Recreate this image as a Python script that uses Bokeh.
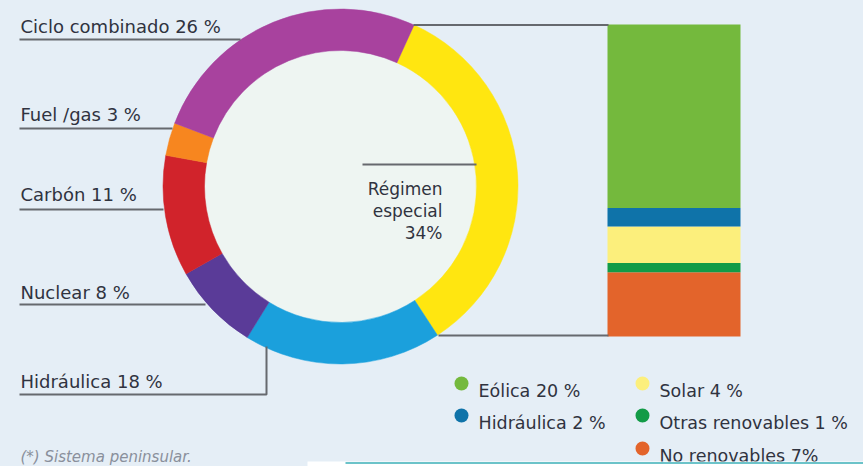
import numpy as np
from bokeh.plotting import figure
from bokeh.models import Range1d, ColumnDataSource
from bokeh.embed import file_html
from bokeh.resources import INLINE
from bokeh.core.properties import value

# ---------------- data ----------------
donut_labels = ["Régimen especial", "Hidráulica", "Nuclear", "Carbón", "Fuel/gas", "Ciclo combinado"]
donut_values = [34, 18, 8, 11, 3, 26]
donut_colors = ["#ffe610", "#1ba0dc", "#5a3b98", "#d1232b", "#f7861f", "#a8429e"]

left_label_texts = ["Ciclo combinado 26 %", "Fuel /gas 3 %", "Carbón 11 %", "Nuclear 8 %", "Hidráulica 18 %"]

bar_labels = ["Eólica", "Hidráulica", "Solar", "Otras renovables", "No renovables"]
bar_values = [20, 2, 4, 1, 7]
bar_colors = ["#74b93d", "#0f73a9", "#fcef7c", "#129b47", "#e3642b"]
legend_texts = ["Eólica 20 %", "Hidráulica 2 %", "Solar 4 %", "Otras renovables 1 %", "No renovables 7%"]

center_text = ["Régimen", "especial", "34%"]
footnote = "(*) Sistema peninsular."

# ---------------- figure ----------------
BG = "#e5eef6"
TXT = "#30333f"
LINE = "#66696e"
FONT = value("DejaVu Sans")
W, H = 863, 466

p = figure(width=W, height=H, x_range=Range1d(0, W), y_range=Range1d(0, H),
           output_backend="svg", toolbar_location=None,
           x_axis_type=None, y_axis_type=None, min_border=0)
p.outline_line_color = None
p.grid.visible = False
p.background_fill_color = BG
p.border_fill_color = BG


def X(ix):
    return ix


def Y(iy):
    return H - iy


# ---------------- donut ----------------
cx, cy = X(340), Y(186)
r_out, r_in = 177.5, 136
start_top = 24.5  # degrees clockwise from 12 o'clock
vals = np.array(donut_values, dtype=float)
cum = np.concatenate([[0], np.cumsum(vals)])
th_s = start_top + 360 * cum[:-1] / vals.sum()
th_e = start_top + 360 * cum[1:] / vals.sum()
d_src = ColumnDataSource(dict(
    start=np.radians(90 - th_s), end=np.radians(90 - th_e),
    color=donut_colors, label=donut_labels))

p.circle(x=cx, y=cy, radius=r_in, fill_color="#eef5f2", line_color=None)
p.annular_wedge(x=cx, y=cy, inner_radius=r_in, outer_radius=r_out,
                start_angle="start", end_angle="end", direction="clock",
                fill_color="color", line_color="color", line_width=0.5, source=d_src)

# ---------------- stacked bar ----------------
bar_top_px, bar_bot_px = Y(24), Y(336)
tot = sum(bar_values)
k = (bar_top_px - bar_bot_px) / tot
p.extra_y_ranges = {"bar": Range1d(-bar_bot_px / k, tot + (H - bar_top_px) / k)}
rev_vals = bar_values[::-1]
rev_cols = bar_colors[::-1]
rcum = np.concatenate([[0], np.cumsum(rev_vals)])
b_src = ColumnDataSource(dict(bottom=rcum[:-1], top=rcum[1:], color=rev_cols))
p.vbar(x=X(673.5), width=133, bottom="bottom", top="top", fill_color="color",
       line_color=None, y_range_name="bar", source=b_src)

# ---------------- leader lines ----------------
lines_x = [
    [X(19), X(240)],
    [X(19), X(172)],
    [X(19), X(163)],
    [X(19), X(205)],
    [X(19), X(266), X(266)],
    [X(413), X(608)],
    [X(438), X(608)],
    [X(362), X(476)],
]
lines_y = [
    [Y(39), Y(39)],
    [Y(128), Y(128)],
    [Y(209), Y(209)],
    [Y(304), Y(304)],
    [Y(394), Y(394), Y(346)],
    [Y(24.5), Y(24.5)],
    [Y(335), Y(335)],
    [Y(164), Y(164)],
]
p.multi_line(xs=lines_x, ys=lines_y, line_color=LINE, line_width=2)

# ---------------- left labels ----------------
p.text(x=[X(20)] * 5, y=[Y(26), Y(114), Y(194), Y(292), Y(381)],
       text=left_label_texts, text_font=FONT, text_font_size="18px",
       text_color=TXT, text_baseline="alphabetic", text_align="left")

# ---------------- center label ----------------
p.text(x=[X(442)] * 3, y=[Y(188), Y(210), Y(232)], text=center_text,
       text_font=FONT, text_font_size="17px", text_color=TXT,
       text_baseline="alphabetic", text_align="right")

# ---------------- legend ----------------
leg_mx = [X(461), X(461), X(642), X(642), X(642)]
leg_my = [Y(383), Y(415), Y(383), Y(415), Y(448)]
leg_order = [0, 1, 2, 3, 4]
p.scatter(x=leg_mx, y=leg_my, size=14, marker="circle",
          fill_color=[bar_colors[i] for i in leg_order], line_color=None)
p.text(x=[m + 17 for m in leg_mx], y=[Y(390), Y(422), Y(390), Y(422), Y(455)],
       text=[legend_texts[i] for i in leg_order], text_font=FONT,
       text_font_size="17.5px", text_color=TXT, text_baseline="alphabetic")

# ---------------- footnote ----------------
p.text(x=[X(20)], y=[Y(456)], text=[footnote], text_font=FONT,
       text_font_size="15px", text_font_style="italic", text_color="#8a909c",
       text_baseline="alphabetic")

# ---------------- page bottom strip ----------------
p.quad(left=[X(307)], right=[X(863)], bottom=[Y(466)], top=[Y(461)],
       fill_color="white", line_color=None)
p.line(x=[X(345), X(863)], y=[Y(462.5), Y(462.5)], line_color="#6cc3c9", line_width=2)

html = file_html(p, INLINE)
html = html.replace("<head>", "<head><style>html,body{background:%s;}</style>" % BG, 1)
open("out.html", "w").write(html)
